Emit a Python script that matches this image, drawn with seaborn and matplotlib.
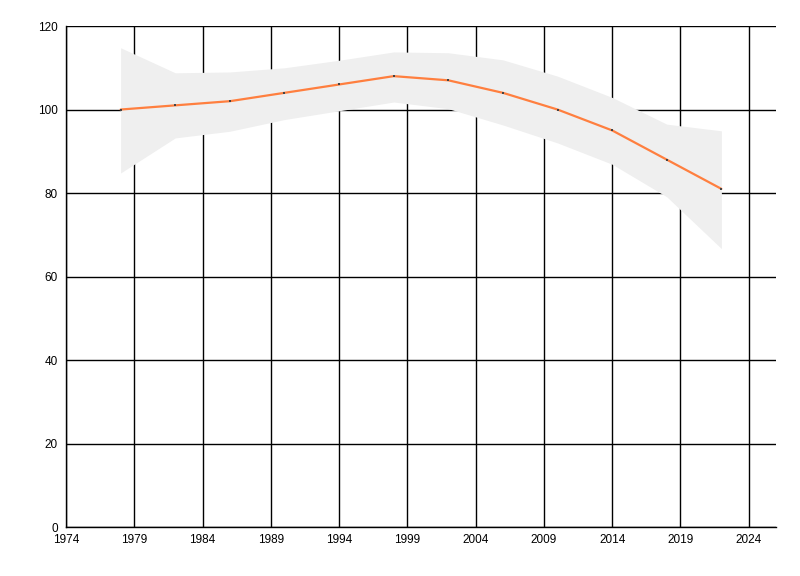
import matplotlib
matplotlib.use("Agg")
import matplotlib.pyplot as plt
import seaborn as sns
import pandas as pd

years = [1978, 1982, 1986, 1990, 1994, 1998, 2002, 2006, 2010, 2014, 2018, 2022]
values = [100, 101, 102, 104, 106, 108, 107, 104, 100, 95, 88, 81]
upper = [114.8, 108.8, 109.0, 110.0, 111.8, 113.8, 113.6, 111.9, 108.0, 102.9, 96.5, 94.9]
lower = [84.8, 93.2, 94.8, 97.6, 99.7, 101.8, 100.2, 96.3, 92.0, 86.9, 79.1, 66.7]

x_ticks = list(range(1974, 2025, 5))
y_ticks = list(range(0, 121, 20))

df = pd.DataFrame({"year": years, "value": values, "upper": upper, "lower": lower})

sns.set_style("white")
plt.rcParams['font.family'] = ['Liberation Sans', 'DejaVu Sans']

fig = plt.figure(figsize=(8, 5.76), dpi=100)
ax = fig.add_axes([0.0825, 0.085, 0.8875, 0.8698])

ax.fill_between(df["year"], df["lower"], df["upper"], color="#efefef", linewidth=0, zorder=2)
sns.lineplot(data=df, x="year", y="value", ax=ax, color="#ff7f3f", linewidth=1.6,
             marker="s", markersize=1.6, markerfacecolor="#444444", markeredgewidth=0, zorder=3)

ax.set_xlim(1974, 2026)
ax.set_ylim(0, 120)
ax.set_xticks(x_ticks)
ax.set_yticks(y_ticks)
ax.grid(True, color="black", linewidth=1.0, zorder=1)
ax.set_axisbelow(True)
ax.set_xlabel("")
ax.set_ylabel("")

for side in ["top", "right"]:
    ax.spines[side].set_visible(False)
for side in ["left", "bottom"]:
    ax.spines[side].set_color("black")
    ax.spines[side].set_linewidth(1.0)

ax.tick_params(axis="both", which="major", labelsize=8.5, colors="black",
               length=5, width=1.0, direction="out", pad=1)
ax.tick_params(axis="x", length=4)

fig.savefig("out.png", dpi=100)
